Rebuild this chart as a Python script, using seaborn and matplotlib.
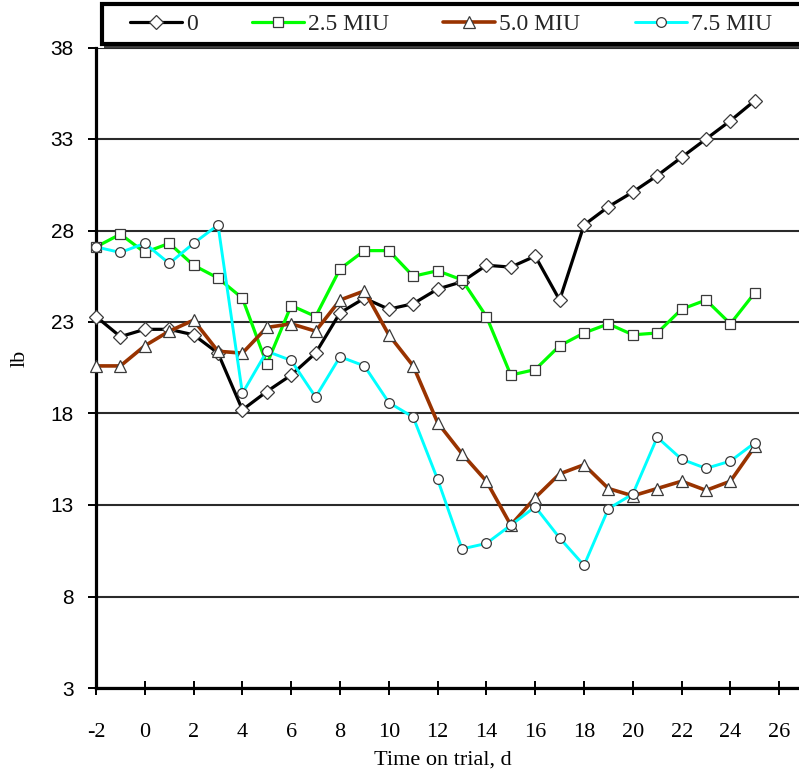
import numpy as np
import pandas as pd
import matplotlib
matplotlib.use("Agg")
import matplotlib.pyplot as plt
from matplotlib.patches import Rectangle
import seaborn as sns

# Body weight (lb) by day on trial for each interferon dose group
days = list(range(-2, 26))
dose_0 = [23.3, 22.2, 22.6, 22.6, 22.3, 21.3, 18.2, 19.2, 20.1, 21.3, 23.5, 24.3, 23.7, 24.0,
          24.8, 25.2, 26.1, 26.0, 26.6, 24.2, 28.3, 29.3, 30.1, 31.0, 32.0, 33.0, 34.0, 35.1]
dose_2_5 = [27.1, 27.8, 26.8, 27.3, 26.1, 25.4, 24.3, 20.7, 23.9, 23.3, 25.9, 26.9, 26.9, 25.5,
            25.8, 25.3, 23.3, 20.1, 20.4, 21.7, 22.4, 22.9, 22.3, 22.4, 23.7, 24.2, 22.9, 24.6]
dose_5_0 = [20.6, 20.6, 21.7, 22.5, 23.1, 21.4, 21.3, 22.7, 22.9, 22.5, 24.2, 24.7, 22.3, 20.6,
            17.5, 15.8, 14.3, 11.9, 13.4, 14.7, 15.2, 13.9, 13.5, 13.9, 14.3, 13.8, 14.3, 16.2]
dose_7_5 = [27.1, 26.8, 27.3, 26.2, 27.3, 28.3, 19.1, 21.4, 20.9, 18.9, 21.1, 20.6, 18.6, 17.8,
            14.4, 10.6, 10.9, 11.9, 12.9, 11.2, 9.7, 12.8, 13.6, 16.7, 15.5, 15.0, 15.4, 16.4]
series_labels = ["0", "2.5 MIU", "5.0 MIU", "7.5 MIU"]
x_ticks = list(range(-2, 27, 2))
y_ticks = list(range(3, 39, 5))

df = pd.DataFrame({
    "day": days * 4,
    "weight": dose_0 + dose_2_5 + dose_5_0 + dose_7_5,
    "group": np.repeat(series_labels, len(days)),
})

sns.set_theme(style="white")
plt.rcParams["font.family"] = ["Liberation Serif", "DejaVu Serif"]
plt.rcParams["axes.unicode_minus"] = False

W, H = 799, 773
fig = plt.figure(figsize=(W / 100, H / 100), dpi=100)
ax = fig.add_axes([96 / W, 85 / H, 703 / W, 640.5 / H])

styles = {
    "0": dict(color="black", marker="D", markersize=6.8, linewidth=2.3),
    "2.5 MIU": dict(color="#00ff00", marker="s", markersize=7.5, linewidth=2.3),
    "5.0 MIU": dict(color="#993300", marker="^", markersize=8.5, linewidth=2.6),
    "7.5 MIU": dict(color="#00ffff", marker="o", markersize=7, linewidth=2.1),
}

for i, label in enumerate(series_labels):
    st = styles[label]
    sns.lineplot(
        data=df[df["group"] == label], x="day", y="weight", ax=ax,
        color=st["color"], marker=st["marker"], markersize=st["markersize"],
        linewidth=st["linewidth"], markerfacecolor="white",
        markeredgecolor="#3a3a3a", markeredgewidth=0.9,
        errorbar=None, label=label, legend=False, clip_on=False, zorder=3 + i,
    )

ax.set_xlim(-2, 26.81)
ax.set_ylim(3, 38)
ax.set_xticks(x_ticks)
ax.set_yticks(y_ticks)
ax.set_axisbelow(True)
ax.yaxis.grid(True, color="#2a2a2a", linewidth=1.5)
ax.xaxis.grid(False)

for side in ["top", "right"]:
    ax.spines[side].set_visible(False)
for side in ["left", "bottom"]:
    ax.spines[side].set_color("black")
    ax.spines[side].set_linewidth(2.3)
    ax.spines[side].set_zorder(2.5)

ax.tick_params(axis="x", direction="inout", length=10, width=1.4, color="black",
               pad=20, labelsize=16, labelcolor="black", bottom=True)
ax.tick_params(axis="y", direction="out", length=6, width=1.4, color="black",
               pad=10, labelsize=15, labelcolor="black", left=True)
for lbl in ax.get_yticklabels():
    lbl.set_fontfamily(["Liberation Sans", "DejaVu Sans"])

ax.set_xlabel("Time on trial, d", fontsize=16, color="black")
ax.xaxis.set_label_coords(0.494, -0.097)
ax.set_ylabel("lb", fontsize=16, color="black")
ax.yaxis.set_label_coords(-(96 - 30) / 703, 0.515)

# Legend frame across the top of the chart
fig.add_artist(Rectangle((104 / W, 1 - 48 / H), 760 / W, 44 / H, transform=fig.transFigure,
                         facecolor="#404040", edgecolor="none", zorder=1))
fig.add_artist(Rectangle((102 / W, 1 - 44 / H), 760 / W, 40 / H, transform=fig.transFigure,
                         facecolor="white", edgecolor="black", linewidth=3, zorder=2))

handles = ax.get_lines()[:4]
fig.legend(handles, series_labels, loc="center left", bbox_to_anchor=(130 / W, 1 - 24 / H),
           ncol=4, frameon=False, fontsize=17, handlelength=2.2, handletextpad=0.17,
           columnspacing=2.3, borderpad=0, borderaxespad=0)

fig.savefig("out.png", dpi=100)
